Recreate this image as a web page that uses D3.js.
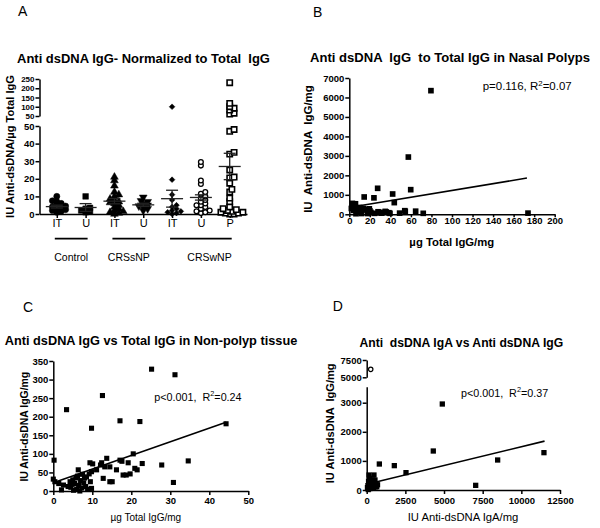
<!DOCTYPE html>
<html><head><meta charset="utf-8">
<script src="https://cdn.jsdelivr.net/npm/d3@7"></script>
<style>
body{margin:0;background:#fff}
svg{display:block}
text{font-family:"Liberation Sans",Arial,Helvetica,sans-serif;white-space:pre}
</style>
</head><body>
<svg id="c" width="600" height="528"></svg>
<script>
// ---------- DATA ----------
// Panel A
const catsA = ["IT","U","IT","U","IT","U","P"];
const groupsA = ["Control","CRSsNP","CRSwNP"];
const groupSpanA = [[0,1],[2,3],[4,6]];
const groupLabelPosA = [0.5, 2.5, 5.3];
const controlIT = [10, 7.5, 7, 6, 5, 4.5, 4, 3.5, 3, 2.5, 2, 1.5, 1];
const controlU  = [10, 3.5, 3, 2, 1.5, 1];
const crssnpIT  = [21, 19, 16, 12.5, 11, 10, 8.5, 8, 7, 6.5, 6, 5, 4, 3, 2, 1.5, 1, 0.5, 0];
const crssnpU   = [9.5, 7.5, 7, 6, 5, 4.5, 4, 3, 2];
const crswnpIT  = [100, 19.5, 11, 8, 5, 4, 3, 2, 1.5, 1, 0.5, 0];
const crswnpU   = [29.5, 27.5, 19, 17, 12.5, 11.5, 10, 9, 8, 7, 6, 5, 5, 4, 3, 2, 1.5, 1, 0.5];
const crswnpP   = [230, 118, 100, 92, 82, 65, 60, 48, 47, 35, 34, 25, 21, 20.5, 17.5, 14, 12.5, 9, 7, 4, 3, 2.5, 2, 1.5, 1, 1, 0.5, 0.5, 0, 0];
const meansA = [4.2, 3.7, 7.3, 5.2, 8.7, 9.4, 27];
const semA   = [0.8, 2.2, 1.5, 0.9, 4.8, 1.5, 7.5];
const yTicksAlow = [0, 10, 20, 30, 40, 50];
const yTicksAup = [50, 100, 150, 200, 250];

// Panel B
const bX = [79.5, 57.5, 27.6, 14.5, 24, 42.2, 59.8, 43.8, 3, 6, 5.5, 174, 72, 64.6, 54.5, 49, 38.6, 35, 29, 21, 16, 13.6, 8.8, 6.5, 12, 18, 19.5, 24.5, 32, 4, 10, 17, 8.8, 54, 2, 31.5, 36, 39.6, 28, 20, 11];
const bY = [6350, 2940, 1335, 890, 845, 1043, 1265, 600, 560, 540, 420, 60, 50, 160, 150, 60, 80, 150, 80, 100, 220, 300, 120, 30, 40, 40, 280, 50, 100, 200, 350, 257, 200, 185, 300, 60, 120, 50, 130, 180, 160];
const regBx = [4, 173];
const regBy = [390, 1860];

// Panel C
const cX = [25.2, 31.2, 12.6, 3.4, 9.8, 17.1, 22.2, 44.3, 0.2, 34.6, 27.8, 30.8, 20.5, 22.8, 6.4, 9.4, 10.1, 12.4, 13.7, 17.1, 17.6, 19.2, 20.9, 21.5, 12.8, 14.5, 15.1, 17.9, 18.7, 19.7, 16.2, 13.2, 14.5, 12.1, 11.1, 9.8, 9.2, 8.5, 0, 0.4, 1.4, 2.6, 2.1, 4.3, 4.5, 5, 5.5, 6, 6.2, 6.5, 7, 7.3, 7.8, 8, 8.3, 8.8, 9.5, 9.8, 5.2, 4.8, 6.8, 7.5, 3.8, 5.8];
const cY = [328, 313, 257, 219, 169, 189, 187, 181, 83, 81, 70, 23, 100, 74, 57, 76, 73, 76, 88, 83, 80, 76, 61, 57, 34, 25, 25, 43, 43, 46, 57, 65, 65, 70, 57, 52, 46, 38, 32, 25, 20, 16, 3, 25, 10, 30, 20, 5, 40, 15, 28, 8, 22, 35, 12, 5, 25, 7, 2, 18, 0, 45, 12, 35];
const regCx = [0, 44.3];
const regCy = [22, 185];

// Panel D
const dX = [4889, 4306, 11462, 8468, 817, 1786, 2541, 7047, 470, 150, 200, 260, 390, 500, 560, 650, 310, 200, 100, 350, 150, 80, 450, 600, 250, 120, 50, 700, 536];
const dY = [2955, 1340, 1283, 1031, 893, 837, 596, 160, 515, 515, 400, 285, 345, 170, 110, 110, 110, 50, 15, 200, 250, 150, 60, 220, 130, 300, 80, 180, 343];
const dOutX = [260];
const dOutY = [6150];
const regDx = [0, 11500];
const regDy = [200, 1680];

// ---------- DRAWING ----------
const F = '"Liberation Sans", Arial, Helvetica, sans-serif';
const svg = d3.select("#c");

function styleAxis(g, fs, bold) {
  g.attr("font-family", F);
  g.selectAll("path.domain").attr("stroke", "#000").attr("stroke-width", 1.5);
  g.selectAll(".tick line").attr("stroke", "#000").attr("stroke-width", 1.5);
  g.selectAll("text").attr("font-family", F).attr("font-size", fs)
    .attr("font-weight", bold ? "bold" : "normal").attr("fill", "#000");
}
function fit(t, w) {
  const L = t.node().getComputedTextLength();
  if (L > 0) t.attr("font-size", (+t.attr("font-size")) * w / L);
  return t;
}
function txt(x, y, s, o = {}) {
  const t = svg.append("text").attr("x", x).attr("y", y).text(s)
    .attr("font-size", o.size || 11).attr("font-weight", o.bold ? "bold" : "normal")
    .attr("text-anchor", o.anchor || "start").attr("fill", "#000");
  if (o.w) fit(t, o.w);
  return t;
}
function rotLabel(x, y, s, w) {
  const t = svg.append("text").attr("transform", `translate(${x},${y}) rotate(-90)`)
    .attr("text-anchor", "middle").attr("font-size", 11).attr("font-weight", "bold").text(s);
  fit(t, w);
}
function annot(x, y, pre, post, w) {
  const t = txt(x, y, pre, {size: 11});
  const sup = t.append("tspan").attr("font-size", 7.5).attr("dy", -4.5).text("2");
  t.append("tspan").attr("dy", 4.5).text(post);
  const L = t.node().getComputedTextLength();
  const k = w / L;
  t.attr("font-size", 11 * k);
  sup.attr("font-size", 7.5 * k);
}

// ===== Panel A =====
const xA = d3.scaleLinear([-0.6, 6.6], [39.5, 247]);
const yAlow = d3.scaleLinear([0, 50], [214, 126]);
const yAup = d3.scaleLinear([50, 250], [116, 79]);
const yA = v => v <= 50 ? yAlow(v) : yAup(v);

txt(18, 16, "A", {size: 14});
txt(143.5, 62.5, "Anti dsDNA IgG- Normalized to Total  IgG", {size: 13, bold: true, anchor: "middle", w: 253});
rotLabel(13.5, 146.5, "IU Anti-dsDNA/µg Total IgG", 143);

const gAyl = svg.append("g").attr("transform", "translate(39.5,0)")
  .call(d3.axisLeft(yAlow).tickValues(yTicksAlow).tickSize(4).tickSizeOuter(0).tickPadding(1).tickFormat(d3.format("d")));
styleAxis(gAyl, 9.5, true);
const gAyu = svg.append("g").attr("transform", "translate(39.5,0)")
  .call(d3.axisLeft(yAup).tickValues(yTicksAup).tickSize(4).tickSizeOuter(0).tickPadding(1).tickFormat(d3.format("d")));
styleAxis(gAyu, 8, true);
const gAx = svg.append("g").attr("transform", "translate(0,214)")
  .call(d3.axisBottom(xA).tickValues(d3.range(catsA.length)).tickSize(4).tickSizeOuter(0).tickPadding(1).tickFormat(i => catsA[i]));
styleAxis(gAx, 11, false);

// group underlines + labels
groupsA.forEach((g, i) => {
  const [a, b] = groupSpanA[i];
  svg.append("line").attr("x1", xA(a) - 2).attr("x2", xA(b) + 2)
    .attr("y1", 238.7).attr("y2", 238.7).attr("stroke", "#000").attr("stroke-width", 1.8);
  txt(xA(groupLabelPosA[i]), 261, g, {size: 10.5, anchor: "middle"});
});

function swarm(vals, cx, d) {
  const pts = vals.map(v => ({v, y: yA(v)})).sort((a, b) => b.y - a.y);
  const placed = [];
  for (const p of pts) {
    let k = 0, off = 0;
    while (k < 60) {
      off = k === 0 ? 0 : (k % 2 ? 1 : -1) * Math.ceil(k / 2) * d * 0.4;
      if (placed.every(q => (q.x - off) ** 2 + (q.y - p.y) ** 2 >= d * d * 0.3)) break;
      k++;
    }
    p.x = cx + off;
    placed.push({x: off, y: p.y});
  }
  return pts;
}

const seriesA = [controlIT, controlU, crssnpIT, crssnpU, crswnpIT, crswnpU, crswnpP];
const shapesA = [
  {type: d3.symbolCircle, size: 30, fill: true, rot: 0},
  {type: d3.symbolSquare, size: 32, fill: true, rot: 0},
  {type: d3.symbolTriangle, size: 26, fill: true, rot: 0},
  {type: d3.symbolTriangle, size: 26, fill: true, rot: 180},
  {type: d3.symbolSquare, size: 16, fill: true, rot: 45},
  {type: d3.symbolCircle, size: 18, fill: false, rot: 0, sw: 1.3},
  {type: d3.symbolSquare, size: 28, fill: false, rot: 0, sw: 1.6}
];
seriesA.forEach((vals, i) => {
  const sh = shapesA[i];
  const pts = swarm(vals, xA(i), 5.5);
  const path = d3.symbol().type(sh.type).size(sh.size)();
  svg.append("g").selectAll("path").data(pts).join("path")
    .attr("d", path)
    .attr("transform", d => `translate(${d.x},${d.y}) rotate(${sh.rot})`)
    .attr("fill", sh.fill ? "#000" : "#fff")
    .attr("stroke", "#000").attr("stroke-width", sh.fill ? 0.5 : sh.sw);
});
// mean +/- SEM
meansA.forEach((m, i) => {
  const cx = xA(i), g = svg.append("g").attr("stroke", "#222").attr("stroke-width", 1.3);
  g.append("line").attr("x1", cx - 11).attr("x2", cx + 11).attr("y1", yA(m)).attr("y2", yA(m));
  g.append("line").attr("x1", cx).attr("x2", cx).attr("y1", yA(m - semA[i])).attr("y2", yA(m + semA[i]));
  [m - semA[i], m + semA[i]].forEach(v =>
    g.append("line").attr("x1", cx - 6).attr("x2", cx + 6).attr("y1", yA(v)).attr("y2", yA(v)));
});

// ===== Panel B =====
const xB = d3.scaleLinear([0, 200], [349.3, 554.7]);
const yB = d3.scaleLinear([0, 7000], [214.3, 78]);
txt(313, 16.5, "B", {size: 14});
txt(450, 62, "Anti dsDNA  IgG  to Total IgG in Nasal Polyps", {size: 13, bold: true, anchor: "middle", w: 280});
rotLabel(311.5, 149, "IU  Anti-dsDNA  IgG/mg", 128);
const gBy = svg.append("g").attr("transform", `translate(${xB(0)},0)`)
  .call(d3.axisLeft(yB).ticks(7).tickSize(4).tickSizeOuter(0).tickPadding(1).tickFormat(d3.format("d")));
styleAxis(gBy, 9.5, true);
const gBx = svg.append("g").attr("transform", `translate(0,${yB(0)})`)
  .call(d3.axisBottom(xB).ticks(8).tickSize(3).tickSizeOuter(0).tickPadding(0).tickFormat(d3.format("d")));
styleAxis(gBx, 9.5, true);
txt(451.8, 245.5, "µg Total IgG/mg", {size: 11, bold: true, anchor: "middle", w: 85});
annot(482.7, 90, "p=0.116, R", "=0.07", 89);
const sqB = d3.symbol().type(d3.symbolSquare).size(32)();
svg.append("g").selectAll("path").data(bX.map((x, i) => [x, bY[i]])).join("path")
  .attr("d", sqB).attr("transform", d => `translate(${xB(d[0])},${yB(d[1])})`).attr("fill", "#000");
svg.append("line").attr("x1", xB(regBx[0])).attr("x2", xB(regBx[1]))
  .attr("y1", yB(regBy[0])).attr("y2", yB(regBy[1])).attr("stroke", "#000").attr("stroke-width", 1.6);

// ===== Panel C =====
const xC = d3.scaleLinear([0, 50], [53.3, 248.3]);
const yC = d3.scaleLinear([0, 350], [491, 361]);
txt(23, 312, "C", {size: 14});
txt(151, 345, "Anti dsDNA IgG vs Total IgG in Non-polyp tissue", {size: 13, bold: true, anchor: "middle", w: 292.7});
rotLabel(27.5, 426.7, "IU Anti-dsDNA IgG/mg", 110);
const gCy = svg.append("g").attr("transform", `translate(${xC(0)},0)`)
  .call(d3.axisLeft(yC).ticks(7).tickSize(4).tickSizeOuter(0).tickPadding(1).tickFormat(d3.format("d")));
styleAxis(gCy, 9.5, true);
const gCx = svg.append("g").attr("transform", `translate(0,${yC(0)})`)
  .call(d3.axisBottom(xC).ticks(5).tickSize(4).tickSizeOuter(0).tickPadding(2.5).tickFormat(d3.format("d")));
styleAxis(gCx, 9.5, true);
txt(145.8, 520.5, "µg Total IgG/mg", {size: 10, anchor: "middle"});
annot(154.3, 400.5, "p<0.001,  R", "=0.24", 87.4);
const sqC = d3.symbol().type(d3.symbolSquare).size(26)();
svg.append("g").selectAll("path").data(cX.map((x, i) => [x, cY[i]])).join("path")
  .attr("d", sqC).attr("transform", d => `translate(${xC(d[0])},${yC(d[1])})`).attr("fill", "#000");
svg.append("line").attr("x1", xC(regCx[0])).attr("x2", xC(regCx[1]))
  .attr("y1", yC(regCy[0])).attr("y2", yC(regCy[1])).attr("stroke", "#000").attr("stroke-width", 1.6);

// ===== Panel D =====
const xD = d3.scaleLinear([0, 12500], [366.7, 560]);
const yDlow = d3.scaleLinear([0, 3550], [490, 386.7]);
const yDup = d3.scaleLinear([5000, 7500], [377.3, 360]);
txt(332.7, 311, "D", {size: 14});
txt(461.3, 346.5, "Anti  dsDNA IgA vs Anti dsDNA IgG", {size: 13, bold: true, anchor: "middle", w: 204});
rotLabel(334, 423.3, "IU Anti-dsDNA  IgG/mg", 120);
const gDyl = svg.append("g").attr("transform", `translate(${xD(0)},0)`)
  .call(d3.axisLeft(yDlow).tickValues([0, 1000, 2000, 3000]).tickSize(4).tickSizeOuter(0).tickPadding(1).tickFormat(d3.format("d")));
styleAxis(gDyl, 9.5, true);
const gDyu = svg.append("g").attr("transform", `translate(${xD(0)},0)`)
  .call(d3.axisLeft(yDup).tickValues([5000, 7500]).tickSize(4).tickSizeOuter(0).tickPadding(1).tickFormat(d3.format("d")));
styleAxis(gDyu, 9.5, true);
const gDx = svg.append("g").attr("transform", `translate(0,${yDlow(0)})`)
  .call(d3.axisBottom(xD).tickValues([0, 2500, 5000, 7500, 10000, 12500]).tickSize(4).tickSizeOuter(0).tickPadding(3).tickFormat(d3.format("d")));
styleAxis(gDx, 9.5, true);
txt(463, 520.5, "IU Anti-dsDNA IgA/mg", {size: 11, anchor: "middle", w: 110.7});
annot(461, 396.5, "p<0.001,  R", "=0.37", 87.3);
const sqD = d3.symbol().type(d3.symbolSquare).size(28)();
svg.append("g").selectAll("path").data(dX.map((x, i) => [x, dY[i]])).join("path")
  .attr("d", sqD).attr("transform", d => `translate(${xD(d[0])},${yDlow(d[1])})`).attr("fill", "#000");
svg.append("g").selectAll("circle").data(dOutX.map((x, i) => [x, dOutY[i]])).join("circle")
  .attr("cx", d => xD(d[0])).attr("cy", d => yDup(d[1])).attr("r", 2.2)
  .attr("fill", "#fff").attr("stroke", "#000").attr("stroke-width", 1.2);
svg.append("line").attr("x1", xD(regDx[0])).attr("x2", xD(regDx[1]))
  .attr("y1", yDlow(regDy[0])).attr("y2", yDlow(regDy[1])).attr("stroke", "#000").attr("stroke-width", 1.6);
</script>
</body></html>
